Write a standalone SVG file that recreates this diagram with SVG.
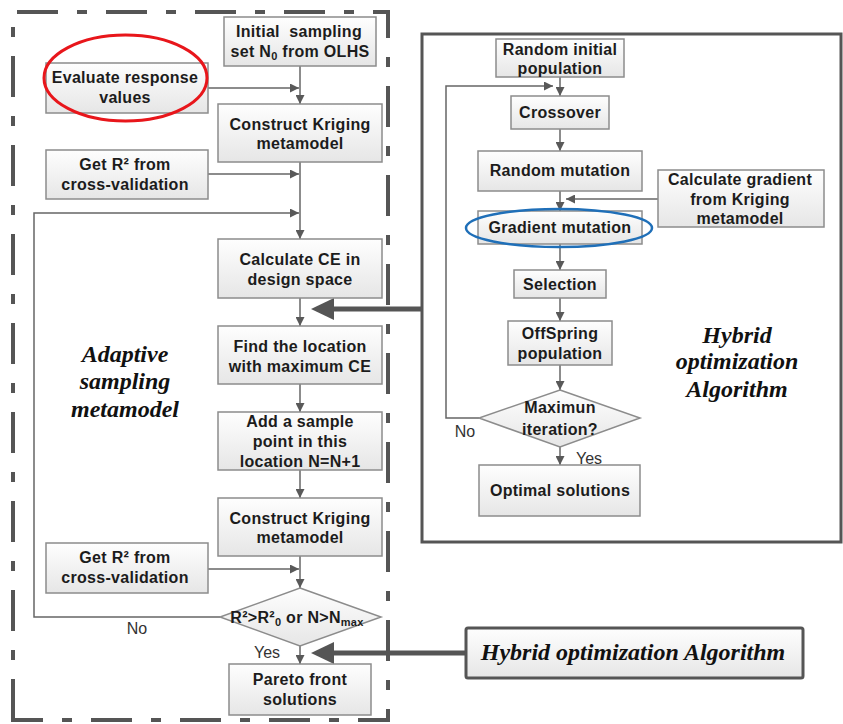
<svg xmlns="http://www.w3.org/2000/svg" width="843" height="724" viewBox="0 0 843 724">
<defs>
<linearGradient id="bg" x1="0" y1="0" x2="0" y2="1">
<stop offset="0" stop-color="#fefefe"/>
<stop offset="1" stop-color="#e6e6e6"/>
</linearGradient>
<marker id="ah" viewBox="0 0 10 10" refX="10" refY="5" markerWidth="9" markerHeight="9" markerUnits="userSpaceOnUse" orient="auto">
<path d="M0,0 L10,5 L0,10 z" fill="#595959"/>
</marker>
<style>
.box{fill:url(#bg);stroke:#8c8c8c;stroke-width:1.5}
.t{font-family:"Liberation Sans",Arial,sans-serif;font-weight:bold;font-size:16px;letter-spacing:0.3px;fill:#1c1c1c;text-anchor:middle}
.l{font-family:"Liberation Sans",Arial,sans-serif;font-size:16px;fill:#333;text-anchor:middle}
.it{font-family:"Liberation Serif","Times New Roman",serif;font-weight:bold;font-style:italic;font-size:24px;fill:#111;text-anchor:middle}
.c{fill:none;stroke:#666;stroke-width:1.5}
.ca{fill:none;stroke:#666;stroke-width:1.5;marker-end:url(#ah)}
.thick{fill:none;stroke:#555;stroke-width:5}
.sub{font-size:11px}
</style>
</defs>

<!-- frames -->
<path d="M13,720 L13,12 L388,12 L388,720 Z" fill="none" stroke="#555" stroke-width="4" stroke-dasharray="41 19 10 19"/>
<rect x="422" y="34" width="419" height="508" fill="none" stroke="#555" stroke-width="3"/>

<text class="it" x="125" y="362">Adaptive</text>
<text class="it" x="125" y="389">sampling</text>
<text class="it" x="125" y="417">metamodel</text>
<text class="it" x="737" y="343">Hybrid</text>
<text class="it" x="737" y="369">optimization</text>
<text class="it" x="737" y="397">Algorithm</text>

<g id="connectors">
<path class="ca" d="M300,66 L300,104"/>
<path class="ca" d="M208,88 L299,88"/>
<path class="ca" d="M300,162 L300,239"/>
<path class="ca" d="M208,174 L299,174"/>
<path class="ca" d="M220,617 L34,617 L34,213 L299,213"/>
<path class="ca" d="M300,298 L300,326"/>
<path class="ca" d="M300,384 L300,412"/>
<path class="ca" d="M300,470 L300,498"/>
<path class="ca" d="M300,556 L300,588"/>
<path class="ca" d="M208,569 L299,569"/>
<path class="ca" d="M300,646 L300,664"/>
<path class="thick" d="M422,309 L330,309"/>
<polygon points="311,309 334,298 334,320" fill="#555"/>
<path class="thick" d="M466,653 L330,653"/>
<polygon points="311,653 334,642 334,664" fill="#555"/>
<path class="ca" d="M560,77 L560,96"/>
<path class="ca" d="M560,129 L560,151"/>
<path class="ca" d="M560,191 L560,211"/>
<path class="ca" d="M658,199 L566,199"/>
<path class="ca" d="M560,244 L560,270"/>
<path class="ca" d="M560,298 L560,321"/>
<path class="ca" d="M560,365 L560,390"/>
<path class="ca" d="M560,447 L560,465"/>
<path class="ca" d="M479,418 L446,418 L446,86 L553,86"/>
</g>

<text class="l" x="137" y="634">No</text>
<text class="l" x="267" y="658">Yes</text>
<text class="l" x="465" y="437">No</text>
<text class="l" x="589" y="464">Yes</text>

<g id="initial">
<rect class="box" x="224" y="17" width="152" height="49"/>
<text class="t" x="299" y="37">Initial&#160; sampling</text>
<text class="t" x="300" y="57">set N<tspan class="sub" dy="3">0</tspan><tspan dy="-3"> from OLHS</tspan></text>
</g>
<g id="evaluate">
<rect class="box" x="46" y="63" width="162" height="50"/>
<text class="t" x="125" y="83">Evaluate response</text>
<text class="t" x="125" y="103">values</text>
<ellipse cx="125.5" cy="78" rx="81.5" ry="43" fill="none" stroke="#e8161b" stroke-width="3"/>
</g>
<g id="kriging1">
<rect class="box" x="218" y="104" width="164" height="58"/>
<text class="t" x="300" y="130">Construct Kriging</text>
<text class="t" x="300" y="149">metamodel</text>
</g>
<g id="getr1">
<rect class="box" x="46" y="150" width="162" height="49"/>
<text class="t" x="125" y="170">Get R² from</text>
<text class="t" x="125" y="190">cross-validation</text>
</g>
<g id="calcce">
<rect class="box" x="218" y="239" width="164" height="59"/>
<text class="t" x="300" y="265">Calculate CE in</text>
<text class="t" x="300" y="285">design space</text>
</g>
<g id="find">
<rect class="box" x="218" y="326" width="164" height="58"/>
<text class="t" x="300" y="352">Find the location</text>
<text class="t" x="300" y="372">with maximum CE</text>
</g>
<g id="add">
<rect class="box" x="218" y="412" width="164" height="58"/>
<text class="t" x="300" y="427">Add a sample</text>
<text class="t" x="300" y="447">point in this</text>
<text class="t" x="300" y="467">location N=N+1</text>
</g>
<g id="kriging2">
<rect class="box" x="218" y="498" width="164" height="58"/>
<text class="t" x="300" y="524">Construct Kriging</text>
<text class="t" x="300" y="543">metamodel</text>
</g>
<g id="getr2">
<rect class="box" x="46" y="543" width="162" height="50"/>
<text class="t" x="125" y="563">Get R² from</text>
<text class="t" x="125" y="583">cross-validation</text>
</g>
<g id="decision1">
<polygon class="box" points="300,588 381,617 300,646 220,617"/>
<text class="t" x="297" y="623">R²&gt;R²<tspan class="sub" dy="3">0</tspan><tspan dy="-3"> or N&gt;N</tspan><tspan class="sub" dy="3">max</tspan></text>
</g>
<g id="pareto">
<rect class="box" x="229" y="664" width="142" height="51"/>
<text class="t" x="300" y="685">Pareto front</text>
<text class="t" x="300" y="705">solutions</text>
</g>
<g id="hybridlabel">
<rect x="466" y="628" width="337" height="50" rx="2" fill="url(#bg)" stroke="#555" stroke-width="3"/>
<text class="it" x="633" y="660">Hybrid optimization Algorithm</text>
</g>

<g id="randinit">
<rect class="box" x="496" y="39" width="128" height="38"/>
<text class="t" x="560" y="55">Random initial</text>
<text class="t" x="560" y="74">population</text>
</g>
<g id="crossover">
<rect class="box" x="511" y="96" width="98" height="33"/>
<text class="t" x="560" y="118">Crossover</text>
</g>
<g id="randmut">
<rect class="box" x="478" y="151" width="164" height="40"/>
<text class="t" x="560" y="176">Random mutation</text>
</g>
<g id="calcgrad">
<rect class="box" x="658" y="170" width="166" height="57"/>
<text class="t" x="740" y="185">Calculate gradient</text>
<text class="t" x="740" y="205">from Kriging</text>
<text class="t" x="740" y="224">metamodel</text>
</g>
<g id="gradmut">
<rect class="box" x="478" y="211" width="164" height="33"/>
<text class="t" x="560" y="233">Gradient mutation</text>
<ellipse cx="559" cy="228" rx="93" ry="19" fill="none" stroke="#1f6fb8" stroke-width="2.5"/>
</g>
<g id="selection">
<rect class="box" x="514" y="270" width="92" height="28"/>
<text class="t" x="560" y="290">Selection</text>
</g>
<g id="offspring">
<rect class="box" x="508" y="321" width="104" height="44"/>
<text class="t" x="560" y="339">OffSpring</text>
<text class="t" x="560" y="359">population</text>
</g>
<g id="decision2">
<polygon class="box" points="560,390 640,418 560,447 479,418"/>
<text class="t" x="560" y="413">Maximun</text>
<text class="t" x="560" y="435">iteration?</text>
</g>
<g id="optimal">
<rect class="box" x="479" y="465" width="161" height="51"/>
<text class="t" x="560" y="496">Optimal solutions</text>
</g>
</svg>
